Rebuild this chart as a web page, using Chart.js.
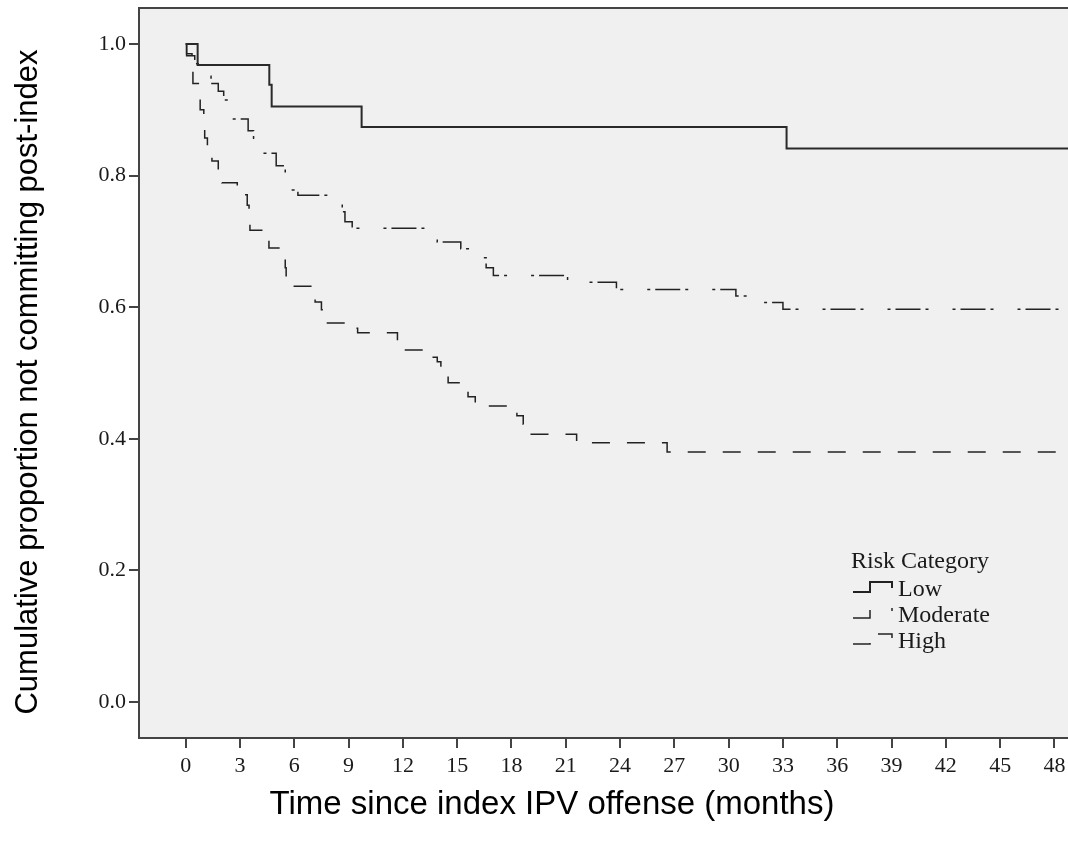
<!DOCTYPE html>
<html>
<head>
<meta charset="utf-8">
<title>Survival by risk category</title>
<script src="https://cdn.jsdelivr.net/npm/chart.js@4.4.1/dist/chart.umd.min.js"></script>
<style>
  html, body { margin: 0; padding: 0; background: #ffffff; overflow: hidden; }
  canvas { display: block; }
</style>
</head>
<body>
<canvas id="kmChart" width="1068" height="845"></canvas>
<script>
// Kaplan-Meier steps (time in months, proportion after the drop)
const lowTime = [0, 0.66, 4.62, 4.75, 9.72, 33.2, 49];
const lowSurv = [1.0, 0.968, 0.938, 0.905, 0.874, 0.841, 0.841];

const moderateTime = [0, 0.05, 0.5, 1.05, 1.4, 1.8, 2.1, 2.55, 3.45, 3.75, 4.0, 5.0, 5.5, 5.77, 6.2,
  8.5, 8.65, 8.8, 9.2, 13.4, 13.9, 15.2, 16.15, 16.6, 17.0, 21.1, 23.8, 30.4, 31.8, 33.0, 49];
const moderateSurv = [1.0, 0.982, 0.97, 0.951, 0.94, 0.928, 0.915, 0.886, 0.868, 0.843, 0.834, 0.815, 0.80, 0.778, 0.77,
  0.76, 0.745, 0.73, 0.72, 0.711, 0.699, 0.689, 0.675, 0.66, 0.648, 0.638, 0.627, 0.617, 0.607, 0.597, 0.597];

const highTime = [0, 0.05, 0.35, 0.4, 0.7, 0.8, 1.0, 1.05, 1.2, 1.45, 1.8, 2.0, 2.85, 3.4, 3.5, 3.55,
  4.27, 4.6, 5.15, 5.5, 5.55, 5.7, 7.05, 7.15, 7.5, 7.7, 9.4, 9.5, 11.7, 13.3, 13.9, 14.1, 14.5,
  15.3, 15.6, 16.0, 17.7, 18.3, 18.65, 18.95, 21.6, 26.6, 49];
const highSurv = [1.0, 0.985, 0.96, 0.94, 0.92, 0.90, 0.883, 0.857, 0.839, 0.822, 0.807, 0.789, 0.771, 0.755, 0.733, 0.717,
  0.702, 0.69, 0.676, 0.66, 0.645, 0.632, 0.62, 0.608, 0.596, 0.576, 0.568, 0.561, 0.535, 0.524, 0.517, 0.497, 0.485,
  0.479, 0.464, 0.45, 0.443, 0.435, 0.422, 0.407, 0.394, 0.38, 0.38];

const xTicks = [0, 3, 6, 9, 12, 15, 18, 21, 24, 27, 30, 33, 36, 39, 42, 45, 48];
const yTicks = [0.0, 0.2, 0.4, 0.6, 0.8, 1.0];

const seriesNames = ['Low', 'Moderate', 'High'];
const legendTitle = 'Risk Category';
const xTitle = 'Time since index IPV offense (months)';
const yTitle = 'Cumulative proportion not committing post-index';

const axisColor = '#444444';
const lineColor = '#222222';
const dashModerate = [25, 5, 3, 24, 3, 5];
const dashHigh = [18, 17];

function toPoints(times, values) {
  return times.map((t, i) => ({ x: t, y: values[i] }));
}

//plot background, top frame line, axis titles and the legend box
const framePlugin = {
  id: 'frame',
  beforeDraw(chart) {
    const { ctx, chartArea } = chart;
    ctx.save();
    ctx.fillStyle = '#ffffff';
    ctx.fillRect(0, 0, chart.width, chart.height);
    ctx.fillStyle = '#f0f0f0';
    ctx.fillRect(chartArea.left, chartArea.top, chartArea.right - chartArea.left, chartArea.bottom - chartArea.top);
    ctx.restore();
  },
  afterDraw(chart) {
    const { ctx, chartArea } = chart;
    ctx.save();
    ctx.strokeStyle = axisColor;
    ctx.lineWidth = 2;
    ctx.beginPath();
    ctx.moveTo(chartArea.left - 1, chartArea.top);
    ctx.lineTo(chartArea.right, chartArea.top);
    ctx.stroke();

    // axis titles
    ctx.fillStyle = '#000000';
    ctx.textBaseline = 'middle';
    ctx.textAlign = 'center';
    ctx.font = '33px "Liberation Sans"';
    ctx.fillText(xTitle, 552, 805);
    ctx.save();
    ctx.translate(28, 382);
    ctx.rotate(-Math.PI / 2);
    ctx.font = '31px "Liberation Sans"';
    ctx.fillText(yTitle, 0, 0);
    ctx.restore();

    // legend in the lower right of the plot
    const lx = 853, tx = 898;
    const rows = [596, 622, 648];
    ctx.textAlign = 'left';
    ctx.textBaseline = 'alphabetic';
    ctx.fillStyle = '#1a1a1a';
    ctx.font = '24px "Liberation Serif"';
    ctx.fillText(legendTitle, lx - 2, 568);
    const dashes = [[], [25, 24, 3, 40], dashHigh];
    rows.forEach((b, i) => {
      ctx.strokeStyle = lineColor;
      ctx.lineWidth = i === 0 ? 2 : 1.5;
      ctx.setLineDash(dashes[i]);
      ctx.beginPath();
      ctx.moveTo(lx, b - 4);
      ctx.lineTo(lx + 17, b - 4);
      ctx.lineTo(lx + 17, b - 14);
      ctx.lineTo(lx + 39, b - 14);
      ctx.lineTo(lx + 39, b - 8);
      ctx.stroke();
      ctx.setLineDash([]);
      ctx.fillText(seriesNames[i], tx, b);
    });
    ctx.restore();
  }
};

new Chart(document.getElementById('kmChart'), {
  type: 'line',
  data: {
    datasets: [
      {
        label: seriesNames[0],
        data: toPoints(lowTime, lowSurv),
        borderColor: '#2a2a2a',
        borderWidth: 2,
        stepped: 'before'
      },
      {
        label: seriesNames[1],
        data: toPoints(moderateTime, moderateSurv),
        borderColor: lineColor,
        borderWidth: 1.5,
        borderDash: dashModerate,
        stepped: 'before'
      },
      {
        label: seriesNames[2],
        data: toPoints(highTime, highSurv),
        borderColor: lineColor,
        borderWidth: 1.5,
        borderDash: dashHigh,
        stepped: 'before'
      }
    ]
  },
  options: {
    responsive: false,
    animation: false,
    devicePixelRatio: 1,
    layout: { padding: { top: 8, right: 0, left: 0, bottom: 0 } },
    elements: { point: { radius: 0 } },
    plugins: {
      legend: { display: false },
      tooltip: { enabled: false }
    },
    scales: {
      x: {
        type: 'linear',
        min: -2.58,
        max: 48.75,
        afterFit(scale) {
          scale.height = 107;
          scale.paddingLeft = 0;
          scale.paddingRight = 0;
        },
        afterBuildTicks(scale) { scale.ticks = xTicks.map(v => ({ value: v })); },
        grid: {
          drawOnChartArea: false,
          drawTicks: true,
          tickLength: 10,
          color: axisColor,
          lineWidth: 2
        },
        border: { display: true, color: axisColor, width: 2 },
        ticks: {
          color: '#1a1a1a',
          padding: 5,
          maxRotation: 0,
          autoSkip: false,
          font: { family: 'Liberation Serif', size: 22 },
          callback: v => String(v)
        },
        title: { display: false }
      },
      y: {
        min: -0.0547,
        max: 1.0547,
        afterFit(scale) {
          scale.width = 139;
          scale.paddingTop = 0;
          scale.paddingBottom = 0;
        },
        afterBuildTicks(scale) { scale.ticks = yTicks.map(v => ({ value: v })); },
        grid: {
          drawOnChartArea: false,
          drawTicks: true,
          tickLength: 10,
          color: axisColor,
          lineWidth: 2
        },
        border: { display: true, color: axisColor, width: 2 },
        ticks: {
          color: '#1a1a1a',
          padding: 3,
          autoSkip: false,
          font: { family: 'Liberation Serif', size: 22 },
          callback: v => Number(v).toFixed(1)
        },
        title: { display: false }
      }
    }
  },
  plugins: [framePlugin]
});
</script>
</body>
</html>
